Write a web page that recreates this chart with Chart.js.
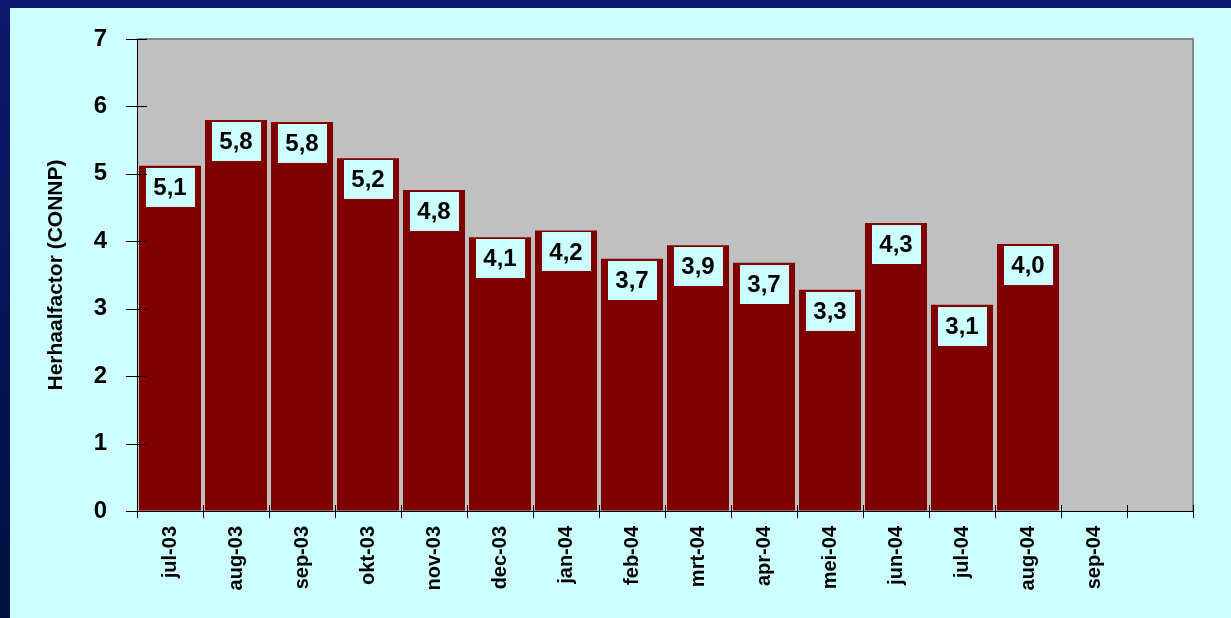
<!DOCTYPE html>
<html>
<head>
<meta charset="utf-8">
<script src="https://cdn.jsdelivr.net/npm/chart.js@4/dist/chart.umd.min.js"></script>
<style>
  html, body { margin: 0; padding: 0; }
  body {
    width: 1231px; height: 618px; overflow: hidden;
    background: linear-gradient(to bottom, #0c1a70, #001040);
    position: relative;
  }
  #paneel {
    position: absolute; left: 10px; top: 8px;
    width: 1221px; height: 610px;
    background: #ccffff;
  }
</style>
</head>
<body>
<div id="paneel"><canvas id="grafiek" width="1221" height="610"></canvas></div>
<script>
// Maanden (laatste vak is leeg)
const maanden = ['jul-03', 'aug-03', 'sep-03', 'okt-03', 'nov-03', 'dec-03', 'jan-04', 'feb-04',
  'mrt-04', 'apr-04', 'mei-04', 'jun-04', 'jul-04', 'aug-04', 'sep-04', ''];

// Herhaalfactor per maand
const herhaalfactor = [5.12, 5.80, 5.77, 5.23, 4.76, 4.06, 4.16, 3.74, 3.94, 3.68, 3.28, 4.27, 3.06, 3.96, null, null];

const yMin = 0;
const yMax = 7;
const yStap = 1;

const lettertype = "'Liberation Sans', Arial, sans-serif";

// Grijze achtergrond van het plotvlak + rand boven/rechts
const plotAchtergrond = {
  id: 'plotAchtergrond',
  beforeDraw(chart) {
    const { ctx, chartArea: a } = chart;
    ctx.save();
    ctx.fillStyle = '#c0c0c0';
    ctx.fillRect(a.left, a.top, a.right - a.left, a.bottom - a.top);
    ctx.strokeStyle = '#858585';
    ctx.lineWidth = 2;
    ctx.beginPath();
    ctx.moveTo(a.left, a.top);
    ctx.lineTo(a.right, a.top);
    ctx.lineTo(a.right, a.bottom);
    ctx.stroke();
    ctx.restore();
  }
};

// Streepjes die de as kruisen
const kruisStreepjes = {
  id: 'kruisStreepjes',
  afterDraw(chart) {
    const { ctx, chartArea: a, scales } = chart;
    ctx.save();
    ctx.strokeStyle = '#000';
    ctx.lineWidth = 1;
    ctx.beginPath();
    scales.y.ticks.forEach(t => {
      const y = Math.round(scales.y.getPixelForValue(t.value)) + 0.5;
      ctx.moveTo(a.left - 11, y);
      ctx.lineTo(a.left + 10, y);
    });
    const vak = scales.x.getPixelForValue(1) - scales.x.getPixelForValue(0);
    for (let i = 0; i <= maanden.length; i++) {
      const x = Math.round(scales.x.getPixelForValue(0) - vak / 2 + i * vak) + 0.5;
      ctx.moveTo(x, a.bottom - 6);
      ctx.lineTo(x, a.bottom + 7);
    }
    ctx.stroke();
    ctx.restore();
  }
};

// Waardelabels in lichte kaders bovenin de staven
const waardeKaders = {
  id: 'waardeKaders',
  afterDatasetsDraw(chart) {
    const { ctx } = chart;
    const meta = chart.getDatasetMeta(0);
    ctx.save();
    meta.data.forEach((el, i) => {
      const v = herhaalfactor[i];
      if (v == null) return;
      const b = 49, h = 39;
      const top = el.y + 2;
      ctx.fillStyle = '#ccffff';
      ctx.fillRect(Math.round(el.x - b / 2), Math.round(top), b, h);
      ctx.fillStyle = '#000';
      ctx.font = 'bold 24px ' + lettertype;
      ctx.textAlign = 'center';
      ctx.textBaseline = 'middle';
      ctx.fillText(v.toFixed(1).replace('.', ','), el.x, top + h / 2 + 1);
    });
    ctx.restore();
  }
};

new Chart(document.getElementById('grafiek'), {
  type: 'bar',
  data: {
    labels: maanden,
    datasets: [{
      label: 'Herhaalfactor',
      data: herhaalfactor,
      backgroundColor: '#800000',
      borderWidth: 0,
      barPercentage: 0.94,
      categoryPercentage: 1
    }]
  },
  options: {
    responsive: false,
    animation: false,
    devicePixelRatio: 1,
    layout: {
      padding: { top: 31, right: 38, left: 0, bottom: 0 }
    },
    plugins: {
      legend: { display: false },
      tooltip: { enabled: false }
    },
    scales: {
      x: {
        afterFit: scale => {
          scale.height = 107;
          scale.paddingLeft = 0;
          scale.paddingRight = 0;
        },
        grid: { drawOnChartArea: false, drawTicks: false },
        border: { display: true, color: '#000', width: 1 },
        ticks: {
          autoSkip: false,
          maxRotation: 90,
          minRotation: 90,
          padding: 15,
          color: '#000',
          font: { family: lettertype, size: 20, weight: 'bold' }
        }
      },
      y: {
        min: yMin,
        max: yMax,
        afterFit: scale => {
          scale.width = 127;
          scale.paddingTop = 0;
          scale.paddingBottom = 0;
        },
        grid: { drawOnChartArea: false, drawTicks: false },
        border: { display: true, color: '#000', width: 1 },
        ticks: {
          stepSize: yStap,
          padding: 30,
          color: '#000',
          font: { family: lettertype, size: 24, weight: 'bold' }
        },
        title: {
          display: true,
          text: 'Herhaalfactor (CONNP)',
          color: '#000',
          padding: { top: 34, bottom: 0 },
          font: { family: lettertype, size: 21, weight: 'bold' }
        }
      }
    }
  },
  plugins: [plotAchtergrond, kruisStreepjes, waardeKaders]
});
</script>
</body>
</html>
